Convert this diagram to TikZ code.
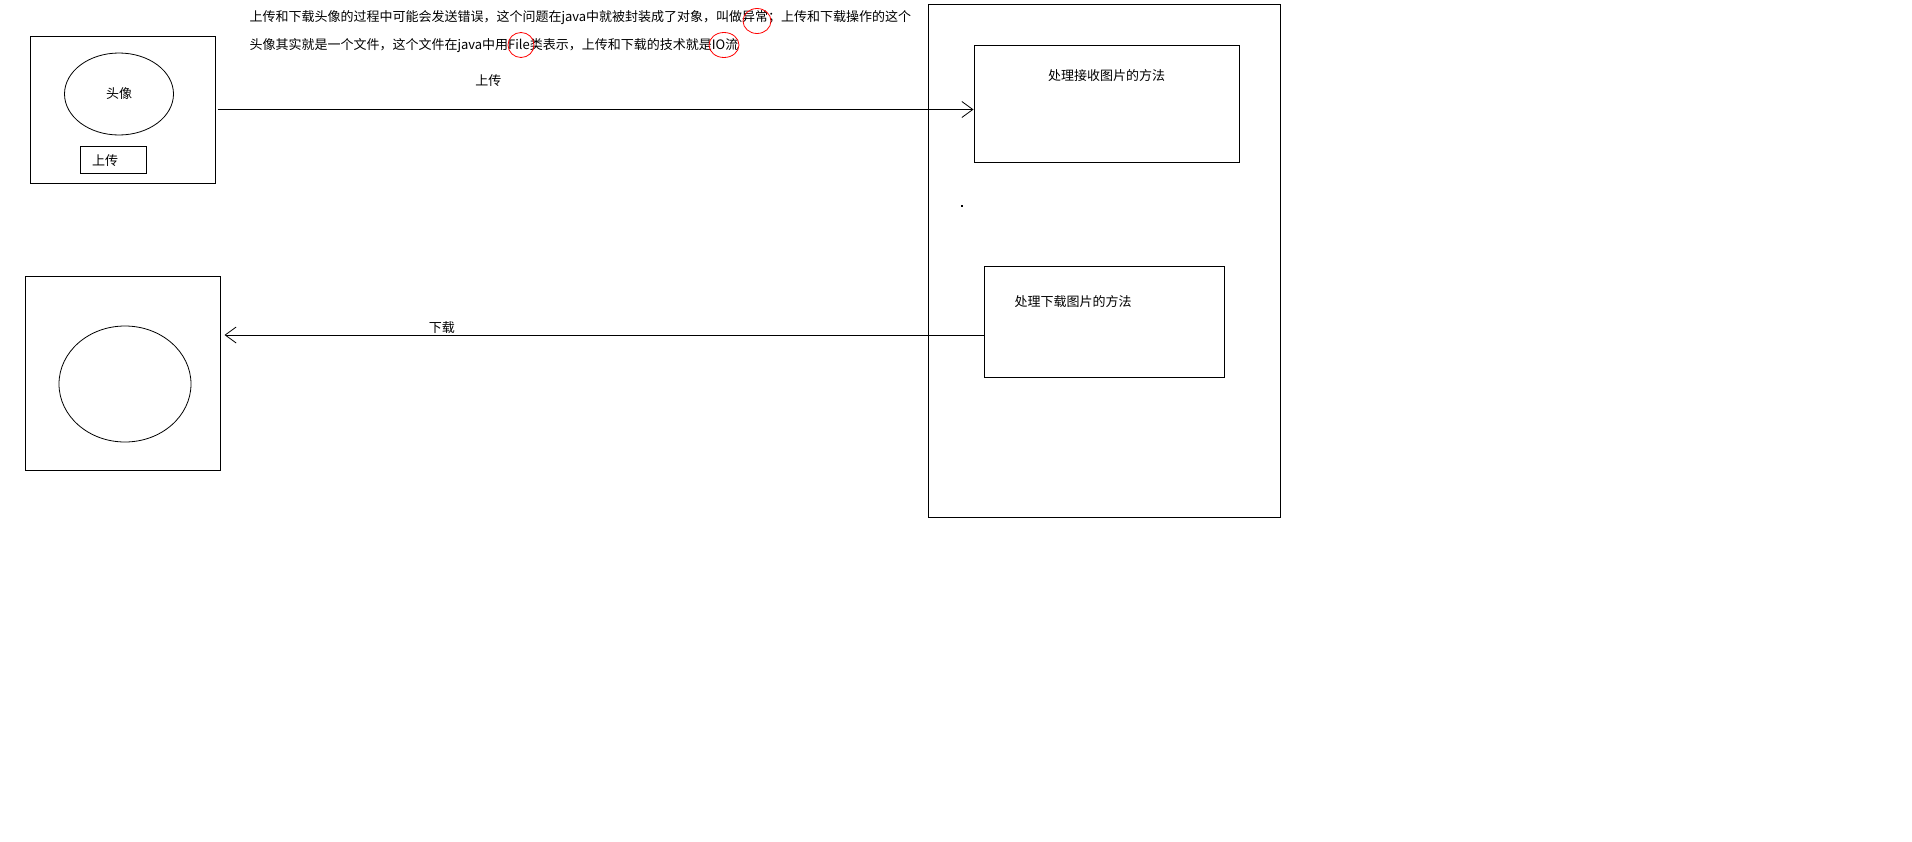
\documentclass[tikz,border=0pt]{standalone}
\usepackage{fontspec}
\setmainfont{Noto Sans CJK SC}
\usepackage{tikz}
\usetikzlibrary{shapes,arrows.meta,positioning}

\begin{document}
\begin{tikzpicture}[x=1pt, y=-1pt, line width=1pt,
  box/.style={draw, rectangle, inner sep=0pt},
  face/.style={draw, ellipse, inner sep=0pt, line width=0.8pt},
  ring/.style={draw=red, ellipse, inner sep=0pt, line width=0.8pt},
  barb/.style={-{Straight Barb[length=11pt, width=16pt, line width=0.8pt]}},
  lbl/.style={inner sep=0pt, font=\fontsize{13}{13}\selectfont}]

  \useasboundingbox (0,0) rectangle (1912,841);

  % note on top
  \node[lbl, anchor=north west, align=left, font=\fontsize{13}{28}\selectfont] (note) at (249,10)
    {上传和下载头像的过程中可能会发送错误，这个问题在java中就被封装成了对象，叫做异常；上传和下载操作的这个\\
     头像其实就是一个文件，这个文件在java中用File类表示，上传和下载的技术就是IO流};
  \node[ring, minimum width=28pt, minimum height=25pt] (ringa) at (757,21) {}; % 异常
  \node[ring, minimum width=26pt, minimum height=25pt] (ringb) at (521,45) {}; % File
  \node[ring, minimum width=30pt, minimum height=25pt] (ringc) at (724,45) {}; % IO

  % client, upload
  \node[box, minimum width=185pt, minimum height=147pt] (up) at (122.5,109.5) {};
  \node[face, lbl, minimum width=109pt, minimum height=82pt] (avatar) at (119,94) {头像};
  \node[box, minimum width=66pt, minimum height=27pt] (btn) at (113,159.5) {};
  \node[lbl] (btntext) at (105,161) {上传};

  % client, download
  \node[box, minimum width=195pt, minimum height=194pt] (down) at (122.5,373) {};
  \node[face, minimum width=132pt, minimum height=116pt] (pic) at (125,384) {};

  % server
  \node[box, minimum width=352pt, minimum height=513pt] (server) at (1104,260.5) {};
  \node[box, minimum width=265pt, minimum height=117pt] (recv) at (1106.5,103.5) {};
  \node[lbl] (recvtext) at ([yshift=-31pt]recv.north) {处理接收图片的方法};
  \node[box, minimum width=240pt, minimum height=111pt] (dl) at (1104,321.5) {};
  \node[lbl] (dltext) at ([xshift=-31pt, yshift=-36pt]dl.north) {处理下载图片的方法};
  \fill (961,205) rectangle +(1.5,1.5);

  %% up->recv
  \draw[barb, shorten <=2pt] (up.east) -- (up.east -| recv.west)
    node[lbl, pos=0.36, above=22pt] {上传};
  %% dl->down
  \coordinate (dlout) at ([yshift=-13.5pt]dl.west);
  \draw[barb, shorten >=4pt] (dlout) -- (dlout -| down.east)
    node[lbl, pos=0.71, above=1pt] {下载};
\end{tikzpicture}
\end{document}
